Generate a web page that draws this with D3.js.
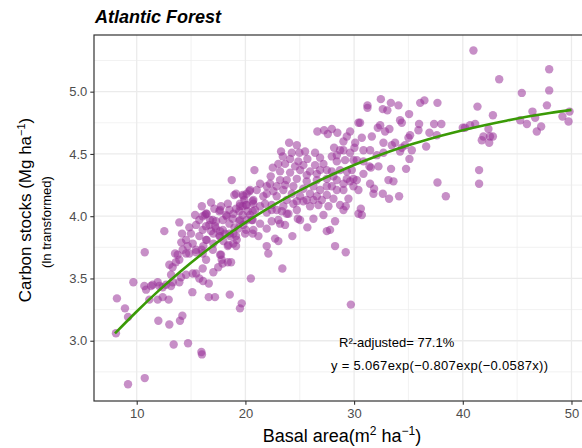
<!DOCTYPE html>
<html>
<head>
<meta charset="utf-8">
<script src="https://cdn.jsdelivr.net/npm/d3@7"></script>
<style>
  body { margin: 0; background: #fff; }
  text { font-family: Arial, "Liberation Sans", sans-serif; }
</style>
</head>
<body>
<div id="chart"></div>
<script>
// Plot data: basal area (m2/ha) vs ln carbon stocks
const points = [
  [8.09,3.06],[8.18,3.34],[8.92,3.26],[9.2,3.19],[9.69,3.47],[9.2,2.65],[10.74,2.70],[10.74,3.71],
  [11.99,3.16],[13.0,3.13],[13.4,2.97],[14.72,2.98],[15.95,2.91],[16.0,2.89],[13.98,3.16],[14.2,3.20],
  [15.12,3.39],[16.63,3.35],[17.2,3.35],[18.56,3.37],[19.66,3.30],[19.5,3.26],[20.5,3.50],[17.05,3.55],
  [16.63,3.46],[16.1,3.48],[10.7,3.44],[10.86,3.41],[11.32,3.44],[11.47,3.45],[11.93,3.47],[12.08,3.44],
  [12.39,3.43],[12.7,3.45],[13.16,3.44],[11.16,3.33],[11.93,3.33],[12.39,3.35],[12.94,3.33],
  [13.0,3.61],[13.3,3.59],[13.6,3.63],[13.92,3.65],[14.54,3.70],[14.84,3.70],[15.46,3.71],[16.07,3.70],
  [16.38,3.65],[16.07,3.58],[15.46,3.54],[15.15,3.54],[14.54,3.53],[14.08,3.51],[13.16,3.53],[13.32,3.47],
  [13.92,3.47],[17.9,3.62],[18.38,3.63],[18.68,3.63],[17.76,3.69],[13.53,3.70],[15.76,3.50],
  [12.54,3.88],[13.92,3.95],[14.17,3.86],[14.84,3.91],[15.37,4.01],[14.1,3.79],[16.84,4.11],[18.74,4.29],
  [18.98,4.17],[19.75,4.17],[20.37,4.20],[20.83,4.37],[16.38,4.02],[17.6,4.04],
  [14.54,3.81],[15.15,3.78],[15.76,3.84],[16.07,3.89],[16.68,3.93],[17.0,3.97],[17.3,3.90],[17.92,3.97],
  [18.22,4.01],[18.53,4.05],[19.14,4.06],[19.75,4.08],[20.2,4.04],[20.67,3.97],[19.44,3.96],[18.53,3.94],
  [17.6,3.84],[16.38,3.81],[17.0,3.73],[15.46,3.73],[19.14,3.84],[20.06,3.89],[20.67,3.86],[19.14,3.76],
  [18.38,3.76],[19.75,4.01],[19.14,4.18],[19.9,4.13],
  [26.62,4.68],[27.24,4.69],[27.95,4.70],[28.46,4.67],[27.58,4.66],[29.63,4.68],[30.4,4.75],[24.02,4.59],
  [24.73,4.57],[23.28,4.52],[24.27,4.51],[24.97,4.51],[25.49,4.52],[26.41,4.51],[29.02,4.60],[29.33,4.64],
  [30.1,4.59],[29.02,4.53],[28.41,4.49],[27.95,4.48],[26.87,4.47],[23.44,4.48],[23.03,4.42],[25.7,4.46],
  [24.87,4.44],[26.41,4.41],[27.18,4.42],[28.41,4.44],[29.17,4.45],[29.94,4.45],[22.52,4.39],[22.33,4.32],
  [23.19,4.36],[24.11,4.35],[25.03,4.37],[25.95,4.36],[26.87,4.37],[27.95,4.36],[28.71,4.37],[29.79,4.37],
  [29.33,4.30],[28.41,4.29],[27.49,4.30],[26.57,4.29],[25.64,4.28],[24.73,4.30],[23.8,4.29],[22.88,4.24],
  [21.96,4.24],[21.35,4.26],[20.43,4.21],[19.82,4.16],[19.5,4.10],[20.73,4.13],[21.65,4.16],[22.57,4.20],
  [23.49,4.21],[24.27,4.18],[25.03,4.16],[25.95,4.18],[26.87,4.21],[27.95,4.24],[29.02,4.21],[29.94,4.24],
  [29.48,4.14],[28.1,4.14],[27.03,4.13],[26.26,4.13],[28.71,4.09],[21.35,4.08],[22.42,4.09],
  [16.29,4.01],[23.4,3.58],[21.96,3.76],[22.11,3.70],[22.73,3.82],[23.03,3.80],[24.32,3.84],[25.7,3.91],
  [24.82,3.98],[27.18,4.01],[27.49,3.88],[27.79,3.89],[28.25,3.96],[28.25,3.76],[29.23,3.71],[29.7,3.29],
  [30.4,4.02],[27.64,4.08],[29.23,4.08],[29.02,4.05],[23.8,4.02],[23.19,3.94],[22.42,3.96],
  [17.67,3.69],[18.89,3.78],[19.97,3.86],[20.73,3.89],[21.2,3.84],[20.58,3.97],[19.5,3.97],[19.0,3.91],
  [17.67,3.84],[17.05,3.78],[16.13,3.76],[17.5,3.59],[17.82,3.65],
  [21.96,4.03],[22.88,4.05],[23.49,4.08],[24.41,4.10],[25.33,4.12],[21.35,3.94],[21.96,3.90],[23.03,3.97],
  [23.65,3.93],[23.96,4.02],
  [32.46,4.94],[33.38,4.91],[34.08,4.89],[31.23,4.89],[31.23,4.87],[32.64,4.86],[33.06,4.85],[36.08,4.91],
  [36.47,4.93],[37.67,4.91],[41.35,4.88],[35.06,4.82],[34.23,4.77],[34.39,4.75],[35.98,4.74],[37.36,4.74],
  [38.03,4.74],[30.55,4.75],[32.18,4.71],[32.85,4.68],[33.25,4.70],[35.92,4.69],[36.93,4.67],[37.61,4.65],
  [35.15,4.65],[35.0,4.63],[40.67,4.73],[41.14,4.74],[40.2,4.71],[30.71,4.63],[31.63,4.64],[28.16,4.55],
  [30.03,4.55],[30.86,4.53],[31.47,4.53],[32.7,4.59],[33.47,4.57],[33.77,4.59],[34.39,4.55],[34.69,4.57],
  [35.31,4.53],[36.63,4.56],[32.7,4.51],[32.09,4.49],[34.23,4.52],[35.09,4.46],[33.4,4.38],[34.78,4.38],
  [33.16,4.29],[33.62,4.28],[31.41,4.40],[31.54,4.39],[32.24,4.40],[30.86,4.44],[30.25,4.45],[29.63,4.51],
  [28.71,4.53],[30.86,4.34],[31.47,4.26],[37.67,4.27],[41.5,4.37],[32.4,4.73],
  [30.25,4.29],[29.63,4.28],[29.02,4.26],
  [40.98,5.33],[47.95,5.18],[43.35,5.10],[45.43,4.99],[47.95,5.01],[47.74,4.89],[42.77,4.81],[46.41,4.84],
  [46.66,4.79],[45.28,4.77],[45.9,4.74],[47.21,4.72],[46.81,4.68],[49.17,4.80],[49.82,4.84],[49.73,4.76],
  [40.0,4.71],[42.36,4.70],[41.9,4.64],[41.75,4.61],[42.5,4.64],[42.77,4.64],[42.43,4.59],
  [38.44,4.16],[34.14,4.16],[33.22,4.14],[32.64,4.18],[31.78,4.18],[31.84,4.22],[30.4,4.21],[30.62,4.06],
  [30.71,4.01],[41.5,4.26],
  // dense band, lower left part
  [15.99,4.08],[16.44,4.02],[16.75,3.97],[17.21,3.92],[17.67,3.88],[18.13,3.86],[18.58,3.84],[18.89,3.86],
  [19.35,3.90],[19.81,3.93],[20.12,3.97],[20.43,4.01],[20.89,4.05],[21.81,4.10],[18.89,4.02],[18.28,4.00],
  [17.67,4.05],[19.5,4.08],[20.12,4.09],[20.73,4.10],[17.05,3.86],[16.44,3.81],[15.98,3.73],[17.97,3.80],
  [18.43,3.77],[19.2,3.81],
  [15.46,3.93],[15.76,3.97],[14.99,3.86],[14.69,3.76],[14.23,3.73],[13.77,3.69],[16.38,3.92],[16.84,3.88],
  [17.3,3.96],[17.92,3.89],[18.53,3.86],[18.83,3.98],[19.44,4.04],[20.06,4.09],[20.67,4.12],[20.67,4.04],
  [18.38,4.10],[17.76,4.08],[17.14,4.06],[16.07,4.00],
  // dense band, middle part
  [20.12,4.18],[21.04,4.21],[21.96,4.18],[22.88,4.16],[23.8,4.13],[24.73,4.12],[23.19,4.29],[22.27,4.26],
  [23.65,4.25],[24.41,4.24],[25.33,4.22],[26.26,4.24],[25.64,4.33],[24.57,4.40],[25.33,4.41],[23.65,4.42],
  [24.11,4.46],[26.57,4.34],[27.49,4.37],[28.1,4.32],[29.33,4.36],[29.94,4.30],[27.49,4.24],[28.41,4.21],
  [26.57,4.16],[27.49,4.17],[25.64,4.13],
  [22.42,4.05],[23.35,4.04],[24.73,4.05],[25.95,4.08],[26.72,4.09],[25.03,3.97],[26.26,3.98]
];

// fitted curve y = 5.067exp(-0.807exp(-0.0587x)), read at these x
const fitX = [8, 10, 12, 14, 16, 18, 20, 22, 24, 26, 28, 30, 32, 34, 36, 38, 40, 42, 44, 46, 48, 50];
const fitY = [3.059, 3.235, 3.400, 3.554, 3.696, 3.828, 3.948, 4.059, 4.160, 4.252, 4.335, 4.411,
  4.479, 4.541, 4.596, 4.646, 4.691, 4.731, 4.767, 4.800, 4.829, 4.854];

const xTicks = [10, 20, 30, 40, 50];
const xMinor = [15, 25, 35, 45];
const yTicks = [3.0, 3.5, 4.0, 4.5, 5.0];
const yMinor = [2.75, 3.25, 3.75, 4.25, 4.75, 5.25];

const width = 582, height = 448;
const panel = { left: 94, right: 603, top: 35, bottom: 401 };

const svg = d3.select("#chart")
  .append("svg")
  .attr("width", width)
  .attr("height", height)
  .style("display", "block");

svg.append("rect").attr("width", width).attr("height", height).attr("fill", "#fff");

const x = d3.scaleLinear().domain([6.07, 52.9]).range([panel.left, panel.right]);
const y = d3.scaleLinear().domain([2.516, 5.455]).range([panel.bottom, panel.top]);

// grid
const grid = svg.append("g");
grid.selectAll(".xminor").data(xMinor).enter().append("line")
  .attr("x1", d => x(d)).attr("x2", d => x(d))
  .attr("y1", panel.top).attr("y2", panel.bottom)
  .attr("stroke", "#ededed").attr("stroke-width", 0.7);
grid.selectAll(".yminor").data(yMinor).enter().append("line")
  .attr("y1", d => y(d)).attr("y2", d => y(d))
  .attr("x1", panel.left).attr("x2", panel.right)
  .attr("stroke", "#ededed").attr("stroke-width", 0.7);
grid.selectAll(".xmajor").data(xTicks).enter().append("line")
  .attr("x1", d => x(d)).attr("x2", d => x(d))
  .attr("y1", panel.top).attr("y2", panel.bottom)
  .attr("stroke", "#ebebeb").attr("stroke-width", 1.3);
grid.selectAll(".ymajor").data(yTicks).enter().append("line")
  .attr("y1", d => y(d)).attr("y2", d => y(d))
  .attr("x1", panel.left).attr("x2", panel.right)
  .attr("stroke", "#ebebeb").attr("stroke-width", 1.3);

// points
svg.append("g").selectAll("circle")
  .data(points)
  .enter().append("circle")
  .attr("cx", d => x(d[0]))
  .attr("cy", d => y(d[1]))
  .attr("r", 4.2)
  .attr("fill", "#993399")
  .attr("opacity", 0.55);

// fitted curve
const line = d3.line()
  .x((d, i) => x(fitX[i]))
  .y(d => y(d))
  .curve(d3.curveMonotoneX);

svg.append("path")
  .datum(fitY)
  .attr("d", line)
  .attr("fill", "none")
  .attr("stroke", "#3a9a06")
  .attr("stroke-width", 2.6);

// panel border
svg.append("rect")
  .attr("x", panel.left).attr("y", panel.top)
  .attr("width", panel.right - panel.left)
  .attr("height", panel.bottom - panel.top)
  .attr("fill", "none")
  .attr("stroke", "#333")
  .attr("stroke-width", 1.2);

// axes
const xAxis = svg.append("g")
  .attr("transform", `translate(0, ${panel.bottom})`)
  .call(d3.axisBottom(x).tickValues(xTicks).tickSize(3.7).tickPadding(4).tickFormat(d3.format("d")));
const yAxis = svg.append("g")
  .attr("transform", `translate(${panel.left}, 0)`)
  .call(d3.axisLeft(y).tickValues(yTicks).tickSize(3.7).tickPadding(3).tickFormat(d3.format(".1f")));

[xAxis, yAxis].forEach(a => {
  a.select(".domain").remove();
  a.selectAll(".tick line").attr("stroke", "#333").attr("stroke-width", 1.1);
  a.selectAll(".tick text")
    .attr("fill", "#4d4d4d")
    .style("font-size", "13px")
    .style("font-family", "Arial, 'Liberation Sans', sans-serif");
});

// title
svg.append("text")
  .attr("x", 95).attr("y", 23)
  .style("font-size", "18px")
  .style("font-weight", "bold")
  .style("font-style", "italic")
  .text("Atlantic Forest");

// x axis title
const xt = svg.append("text")
  .attr("x", 342).attr("y", 442)
  .attr("text-anchor", "middle")
  .style("font-size", "18px");
xt.append("tspan").text("Basal area(m");
xt.append("tspan").attr("dy", -7).style("font-size", "12px").text("2");
xt.append("tspan").attr("dy", 7).text(" ha");
xt.append("tspan").attr("dy", -7).style("font-size", "12px").text("\u22121");
xt.append("tspan").attr("dy", 7).text(")");

// y axis title
const yt = svg.append("text")
  .attr("transform", "translate(31,210) rotate(-90)")
  .attr("text-anchor", "middle")
  .style("font-size", "17px");
yt.append("tspan").text("Carbon stocks (Mg ha");
yt.append("tspan").attr("dy", -6).style("font-size", "11px").text("\u22121");
yt.append("tspan").attr("dy", 6).text(")");

svg.append("text")
  .attr("transform", "translate(51,222) rotate(-90)")
  .attr("text-anchor", "middle")
  .style("font-size", "13px")
  .text("(ln transformed)");

// annotations
svg.append("text")
  .attr("x", 339).attr("y", 347)
  .style("font-size", "13px")
  .text("R\u00b2-adjusted= 77.1%");

svg.append("text")
  .attr("x", 331).attr("y", 370)
  .style("font-size", "13px")
  .attr("textLength", 217)
  .attr("lengthAdjust", "spacing")
  .text("y = 5.067exp(\u22120.807exp(\u22120.0587x))");
</script>
</body>
</html>
